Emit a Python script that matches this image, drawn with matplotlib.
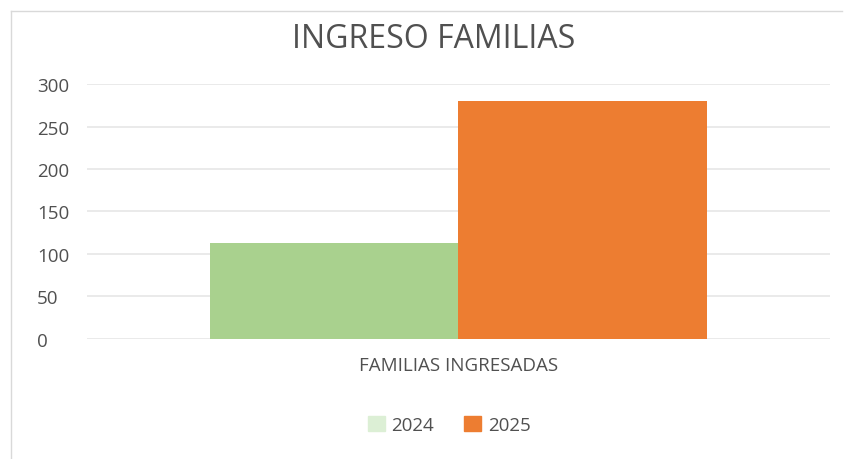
import matplotlib.pyplot as plt
from matplotlib.patches import Patch
from matplotlib.lines import Line2D

plt.rcParams['font.family'] = ['Open Sans', 'DejaVu Sans']

category = ["FAMILIAS INGRESADAS"]
years = ["2024", "2025"]
values_2024 = [113]
values_2025 = [280]

fig = plt.figure(figsize=(8.46, 4.6), dpi=100)
ax = fig.add_axes([0.1028, 0.2609, 0.8782, 0.5543])

# outer chart frame (only left and top edges visible in the reference)
fig.add_artist(Line2D([0.013, 0.013], [0.0, 0.974], color='#d9d9d9', lw=1))
fig.add_artist(Line2D([0.013, 0.995], [0.974, 0.974], color='#d9d9d9', lw=1))

w = 0.335
ax.bar([-w / 2], values_2024, width=w, color='#a9d18e')
ax.bar([w / 2], values_2025, width=w, color='#ed7d31')

ax.set_xlim(-0.5, 0.5)
ax.set_ylim(0, 300)
ax.set_yticks(range(0, 301, 50))
ax.set_xticks([0])
ax.set_xticklabels(category)
ax.tick_params(axis='both', length=0, colors='#505050', labelsize=13.5)
ax.tick_params(axis='x', pad=12)
ax.tick_params(axis='y', pad=0)
for lbl in ax.get_yticklabels():
    lbl.set_horizontalalignment('left')
    lbl.set_x(-0.0673)
ax.grid(axis='y', color='#e6e6e6', lw=1.2)
ax.set_axisbelow(True)
for s in ax.spines.values():
    s.set_visible(False)

fig.text(0.513, 0.915, "INGRESO FAMILIAS", ha='center', va='center',
         fontsize=23, color='#505050')

handles = [Patch(color='#dcefd5', label=years[0]),
           Patch(color='#ed7d31', label=years[1])]
fig.legend(handles=handles, loc='center', bbox_to_anchor=(0.531, 0.074), ncol=2,
           frameon=False, fontsize=13.5, labelcolor='#505050',
           handlelength=0.9, handleheight=0.9, handletextpad=0.35, columnspacing=1.6)

fig.savefig('out.png', dpi=100)
